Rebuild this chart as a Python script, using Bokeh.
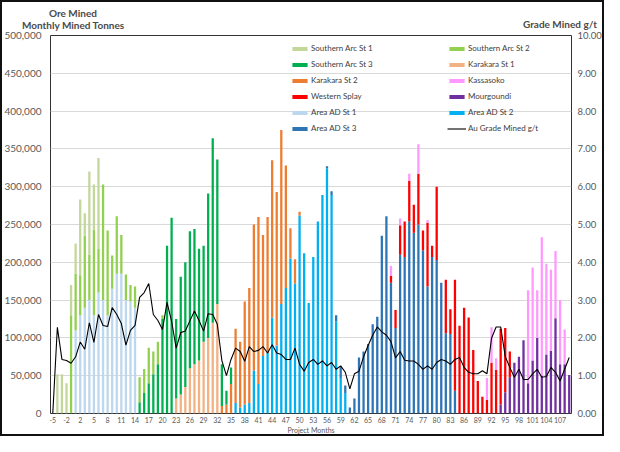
from bokeh.plotting import figure
from bokeh.layouts import column
from bokeh.models import (ColumnDataSource, Range1d, LinearAxis, FixedTicker,
                          NumeralTickFormatter, Legend, LegendItem, Div)
from bokeh.embed import file_html
from bokeh.resources import INLINE

# ---------------- data ----------------
months = list(range(-5, 0)) + list(range(1, 110))   # project months (no month 0)

# each series: first month + consecutive monthly values (thousand tonnes)
sa1_start = -4
sa1 = [52, 52, 40, 40, 40, 100, 30, 110, 60, 120]
sa2_start = -1
sa2 = [130, 75, 53, 95, 60, 113, 58, 153, 112, 44, 76, 51, 34, 22, 28, 33, 32, 47, 30, 30, 5]
sa3_start = 15
sa3 = [15, 27, 40, 52, 65, 125, 222, 259, 105, 156, 165, 181, 179, 148, 127, 191, 244, 191, 55, 18, 22]
kk1_start = 23
kk1 = [20, 25, 35, 60, 65, 70, 95, 100, 120, 145]
kk2_start = 33
kk2 = [10, 12, 39, 98, 87, 136, 152, 193, 221, 160, 180, 208, 203, 230, 162, 40, 32, 5]
kass_start = 70
kass = [13, 0, 9, 0, 9, 0, 39, 0, 4, 0, 0, 0, 0, 0, 0, 0, 0, 0, 0, 0, 0,
        29, 47, 15, 0, 0, 0, 0, 0, 0, 123, 123, 63, 183, 120, 107, 89, 85, 46]
ws_start = 70
ws = [9, 24, 39, 47, 54, 37, 67, 26, 84, 15, 97, 0, 71, 33, 147, 116, 140, 127, 84, 43, 22,
      18, 67, 58, 100, 85, 34]
mour_start = 94
mour = [12, 28, 48, 67, 75, 97, 40, 70, 100, 50, 78, 83, 126, 65, 65, 51]
ad1_start = 1
ad1 = [110, 130, 140, 150, 130, 160, 150, 130, 165, 185, 185, 150, 148, 140]
ad2_start = 36
ad2 = [14, 8, 12, 14, 57, 39, 76, 80, 127, 90, 145, 166, 205, 172, 262, 212, 146, 207, 254, 289,
       324, 289, 122, 47, 27]
ad3_start = 56
ad3 = [3, 5, 8, 15, 10, 8, 20, 74, 82, 92, 118, 128, 235, 261, 173, 113, 210, 207, 254, 239,
       250, 216, 168, 207, 203, 173, 106, 105, 30]

# Au grade mined g/t, one value per month
grade = [0.00, 2.28, 1.43, 1.40, 1.33,
         1.50, 1.89, 1.70, 2.40, 1.88, 2.62, 2.33, 2.30, 2.80, 2.62,
         2.38, 1.81, 2.20, 2.33, 3.07, 3.20, 3.44, 2.62, 2.46, 2.22,
         2.94, 2.44, 1.73, 2.14, 2.18, 2.45, 2.71, 2.46, 2.18, 2.64,
         2.62, 2.36, 1.40, 1.00, 1.43, 1.73, 1.64, 1.38, 1.77, 1.64,
         1.67, 1.77, 1.60, 1.82, 1.60, 1.56, 1.43, 1.43, 1.73, 1.30,
         1.12, 1.35, 1.43, 1.30, 1.39, 1.26, 1.35, 1.17, 1.26, 1.09,
         0.65, 1.05, 1.12, 1.50, 1.80, 2.07, 2.29, 2.16, 2.07, 1.90,
         1.47, 1.64, 1.41, 1.39, 1.39, 1.30, 1.17, 1.26, 1.17, 1.35,
         1.43, 1.39, 1.30, 1.43, 1.48, 1.22, 1.09, 1.05, 1.05, 1.13,
         1.05, 1.99, 2.29, 2.29, 1.51, 1.22, 0.96, 1.17, 0.90, 0.90,
         1.05, 1.17, 0.96, 0.98, 1.22, 1.09, 0.86, 1.17, 1.48]

labels = ["Area AD St 1", "Area AD St 2", "Area AD St 3", "Mourgoundi", "Karakara St 1",
          "Karakara St 2", "Southern Arc St 3", "Southern Arc St 2", "Southern Arc St 1",
          "Western Splay", "Kassasoko"]
colors = ["#bdd7ee", "#00b0f0", "#2e75b6", "#7030a0", "#f4b183",
          "#ed7d31", "#00b050", "#92d050", "#c4d79b", "#ff0000", "#ff99ff"]
tick_step = 3


def fill(start, vals):
    arr = [0.0] * len(months)
    i0 = months.index(start)
    for k, v in enumerate(vals):
        arr[i0 + k] = v * 1000.0
    return arr


series = [fill(ad1_start, ad1), fill(ad2_start, ad2), fill(ad3_start, ad3),
          fill(mour_start, mour), fill(kk1_start, kk1), fill(kk2_start, kk2),
          fill(sa3_start, sa3), fill(sa2_start, sa2), fill(sa1_start, sa1),
          fill(ws_start, ws), fill(kass_start, kass)]
keys = ["s%d" % i for i in range(len(series))]
data = {"x": list(range(len(months))), "grade": grade}
for k, s in zip(keys, series):
    data[k] = s
src = ColumnDataSource(data)

# ---------------- figure ----------------
FONT = "Lato"
GREY = "#595959"
W, H, HEAD = 604, 436, 29

head = Div(width=W, height=HEAD, margin=0, text=(
    '<div style="position:relative;width:%dpx;height:%dpx;font-family:Lato;'
    'font-weight:bold;font-size:10px;line-height:12px;color:#4a4a4a;white-space:nowrap;">'
    '<span style="position:absolute;left:49px;top:7px;">Ore Mined</span>'
    '<span style="position:absolute;left:22px;top:19px;">Monthly Mined Tonnes</span>'
    '<span style="position:absolute;left:523px;top:18px;">Grade Mined g/t</span>'
    '</div>') % (W, HEAD))

p = figure(width=W, height=H - HEAD, output_backend="svg", toolbar_location=None,
           title=None, x_range=Range1d(-0.5, len(months) - 0.5),
           y_range=Range1d(0, 500000),
           min_border_left=50, min_border_right=30, min_border_top=6,
           min_border_bottom=21, margin=0)
p.extra_y_ranges = {"g": Range1d(0, 10)}
p.outline_line_color = "#333333"
p.outline_line_width = 1
p.background_fill_color = "white"
p.border_fill_alpha = 0

bars = p.vbar_stack(keys, x="x", width=0.5, source=src, fill_color=colors, line_color=None)
line = p.line("x", "grade", source=src, y_range_name="g", line_color="black", line_width=1.1)

# axes
p.yaxis.ticker = FixedTicker(ticks=list(range(0, 500001, 50000)))
p.yaxis.formatter = NumeralTickFormatter(format="0,0")
p.xaxis.ticker = FixedTicker(ticks=list(range(0, len(months), tick_step)))
p.xaxis.major_label_overrides = {i: str(m) for i, m in enumerate(months)}
p.xaxis.axis_label = "Project Months"
p.xaxis.axis_label_text_font_style = "normal"
p.xaxis.axis_label_text_font_size = "7px"
p.xaxis.axis_label_text_color = GREY
p.xaxis.axis_label_text_font = FONT
p.xaxis.axis_label_standoff = 0
p.xaxis.major_label_text_font_size = "7px"
p.xaxis.major_label_standoff = 3

right = LinearAxis(y_range_name="g", ticker=FixedTicker(ticks=list(range(0, 11))),
                   formatter=NumeralTickFormatter(format="0.00"))
p.add_layout(right, "right")

for ax in [p.xaxis[0], p.yaxis[0], right]:
    ax.axis_line_color = None
    ax.major_tick_line_color = None
    ax.minor_tick_line_color = None
    ax.major_tick_out = 0
    ax.major_tick_in = 0
    ax.minor_tick_out = 0
    ax.minor_tick_in = 0
    ax.major_label_text_color = GREY
    ax.major_label_text_font = FONT
p.yaxis.major_label_text_font_size = "10px"
p.yaxis.major_label_standoff = 9
right.major_label_text_font_size = "9.5px"
right.major_label_standoff = 6

p.xgrid.visible = False
p.ygrid.grid_line_color = "#d9d9d9"
p.ygrid.grid_line_width = 1

# legends (two columns)
byname = dict(zip(labels, bars))
left_names = ["Southern Arc St 1", "Southern Arc St 3", "Karakara St 2", "Western Splay",
              "Area AD St 1", "Area AD St 3"]
right_names = ["Southern Arc St 2", "Karakara St 1", "Kassasoko", "Mourgoundi", "Area AD St 2"]


def make_legend(items, loc):
    lg = Legend(items=items, location=loc, orientation="vertical")
    lg.background_fill_alpha = 0
    lg.border_line_alpha = 0
    lg.padding = 0
    lg.margin = 0
    lg.spacing = 6
    lg.glyph_width = 19
    lg.glyph_height = 5
    lg.label_height = 10
    lg.label_standoff = 2
    lg.label_text_font_size = "8px"
    lg.label_text_font = FONT
    lg.label_text_color = "#404040"
    lg.label_text_baseline = "middle"
    return lg


leg1 = make_legend([LegendItem(label=n, renderers=[byname[n]]) for n in left_names], (240, 280))
leg2 = make_legend([LegendItem(label=n, renderers=[byname[n]]) for n in right_names]
                   + [LegendItem(label="Au Grade Mined g/t", renderers=[line])], (397, 280))
p.add_layout(leg1)
p.add_layout(leg2)

page = column(head, p, spacing=0, margin=0, width=W, height=H,
              styles={"box-shadow": "inset 0 0 0 2px #111111", "background": "white"})

open("out.html", "w").write(file_html(page, INLINE))
